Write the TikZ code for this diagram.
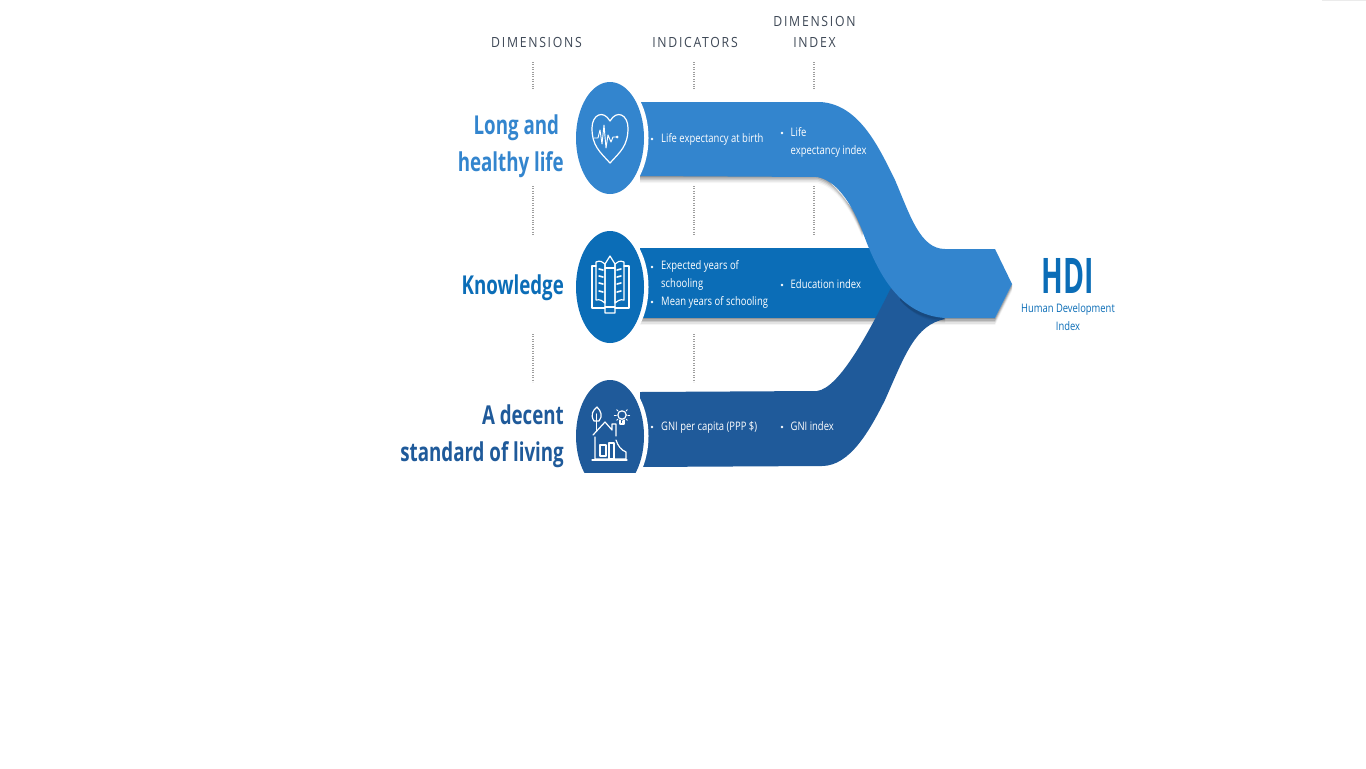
\documentclass[tikz,border=0pt]{standalone}
\usepackage{fontspec}
\setmainfont{Open Sans}
\newfontfamily\headfont[LetterSpace=14]{Open Sans}
\usetikzlibrary{shapes.geometric}
\definecolor{bandA}{HTML}{3385CE}
\definecolor{bandB}{HTML}{0B6DB7}
\definecolor{bandC}{HTML}{1F5A9A}
\definecolor{headgrey}{HTML}{3F4957}
\tikzset{
  x=0.75pt,y=-0.75pt,
  headtext/.style={font=\headfont\fontsize{10.5}{15.5}\selectfont,text=headgrey,align=center,inner sep=0pt,xscale=.875},
  dimtext/.style={font=\bfseries\fontsize{19.5}{27.6}\selectfont,align=right,anchor=east,inner sep=0pt,xscale=.72},
  bandtext/.style={font=\fontsize{8.8}{13.2}\selectfont,text=white,align=left,anchor=west,inner sep=0pt,xscale=.805},
  leader/.style={draw=black!38,line width=.8pt,densely dotted},
  icon/.style={draw=white,line width=.9pt,line join=round,line cap=round,fill=none},
  dot/.style={circle,fill=white,inner sep=0pt,minimum size=2.2pt},
  disc/.style={ellipse,inner sep=0pt,minimum width=51pt,minimum height=84pt},
}
\begin{document}
\begin{tikzpicture}
\useasboundingbox (0,0) rectangle (1366,768);
\fill[white] (0,0) rectangle (1366,768);
\fill[black!8] (1322,0) rectangle (1366,1.2);

% column headings
\node[headtext] (h1) at (536.5,42) {DIMENSIONS};
\node[headtext] (h2) at (695,42) {INDICATORS};
\node[headtext] (h3) at (814.5,32) {DIMENSION\\INDEX};

% dotted leaders
\foreach \n/\x/\a/\b in {a/533/62/90,b/694/62/90,c/814/62/90,d/533/186/235,e/694/186/235,f/814/186/235,g/533/334/382,h/694/334/382}{
  \coordinate (l\n1) at (\x,\a);
  \coordinate (l\n2) at (\x,\b);
  \draw[leader] (l\n1) -- (l\n2);
}

\begin{scope}
\clip (380,60) rectangle (1366,472);

% shadows
\foreach \d/\o in {1/.16,2.5/.13,4/.10,5.5/.07,7/.04}{
  \fill[black,opacity=\o] (640,176+\d) -- (817,176+\d) .. controls (835,180+\d) and (850,200+\d) .. (862,230+\d) -- (870,230) -- (820,170) -- (640,170) -- cycle;
  \fill[black,opacity=\o] (640,318) rectangle (880,318+\d);
  \fill[black,opacity=\o] (925,318) rectangle (995,318+\d);
  \fill[black,opacity=\o] (995,318+\d) -- (1012,284+\d) -- (1012,284) -- (995,318) -- cycle;
}

% bands
\path[fill=bandB] (640,248) -- (900,248) -- (900,318) -- (640,318) -- cycle;
\path[fill=bandC] (640,392) -- (817,391) .. controls (840,388) and (870,330) .. (895,280)
  -- (945,319) .. controls (915,325) and (905,355) .. (885,400)
  .. controls (870,430) and (850,466) .. (822,466) -- (640,467) -- cycle;
\foreach \d/\o in {1/.08,2.5/.06,4/.04}{
  \fill[black,opacity=\o] (900,300) .. controls (910,312) and (925,318+\d) .. (945,319+\d) -- (945,316) -- (900,290) -- cycle;
}
\path[fill=bandA] (640,102) -- (820,102) .. controls (860,104) and (880,150) .. (895,180)
  .. controls (910,215) and (920,249) .. (945,249) -- (995,249) -- (1012,284) -- (995,318) -- (945,318)
  .. controls (900,315) and (878,275) .. (862,230) .. controls (850,200) and (835,180) .. (817,177) -- (640,176) -- cycle;

% circles with white ring
\foreach \y/\c/\n in {138/bandA/c1,287/bandB/c2,436/bandC/c3}{
  \fill[white] (610,\y) ellipse [x radius=38.5,y radius=60];
  \node[disc,fill=\c] (\n) at (610,\y) {};
}
\end{scope}

% heart icon
\draw[icon] (610,163) .. controls (600,152) and (592,146) .. (592,128) .. controls (592,115) and (603,109) .. (610,121)
  .. controls (617,109) and (628,115) .. (628,128) .. controls (628,146) and (620,152) .. (610,163) -- cycle;
\draw[icon,line width=.7pt] (594,138) -- (598,138) -- (600,130) -- (602,144) -- (604,125) -- (606,148) -- (608,135) -- (611,142) -- (613,137) -- (617,137);
\fill[white] (617,137) circle (1.5);

% book icon
\draw[icon] (596,262) .. controls (600,260) and (603,262) .. (605,264) -- (605,303) .. controls (603,301) and (600,299) .. (596,300) -- cycle;
\draw[icon] (624,262) .. controls (620,260) and (617,262) .. (615,264) -- (615,303) .. controls (617,301) and (620,299) .. (624,300) -- cycle;
\draw[icon] (596,266) -- (592,266) -- (592,308) -- (605,308);
\draw[icon] (624,266) -- (629,266) -- (629,308) -- (615,308);
\draw[icon] (605,264) -- (610,256) -- (615,264) -- (615,313) -- (605,313) -- cycle;
\draw[icon] (605,268) -- (615,268);
\draw[icon] (605,307) -- (615,307);
\foreach \yy in {269,276,283,291}{
  \draw[icon,line width=1.2pt] (599,\yy) -- (603,\yy+1);
  \draw[icon,line width=1.2pt] (621,\yy) -- (617,\yy+1);
}

% house icon
\draw[icon] (593,435) -- (605,422) -- (612,430) -- (612,424) -- (616,424) -- (616,436);
\draw[icon] (595,437) -- (595,459) -- (626,459) -- (626,452) .. controls (621,450) and (618,446) .. (616,440);
\draw[icon] (592,460) -- (627,460);
\draw[icon] (600,445) rectangle (606,456);
\draw[icon] (609,443) rectangle (614,459);
\draw[icon] (594,421) .. controls (590,415) and (593,410) .. (597,407) .. controls (601,411) and (603,416) .. (599,421) -- cycle;
\draw[icon] (596.5,414) -- (596.5,431);
\draw[icon] (622,415) circle (4.2);
\draw[icon] (620,420) -- (620,424) -- (624,424) -- (624,420);
\foreach \aa in {0,45,...,315}{ \ifnum\aa=270\else\draw[icon,line width=.6pt] (622,415) ++(\aa:5.7) -- ++(\aa:2);\fi }

% dimension labels
\node[dimtext,text=bandA] (d1) at (564,146) {Long and\hspace*{5pt}\\healthy life};
\node[dimtext,text=bandB] (d2) at (564,288) {Knowledge};
\node[dimtext,text=bandC] (d3) at (564,436) {A decent\\standard of living};

% band texts
\foreach \p in {(652,139),(782,133),(652,267),(652,302),(782,285),(652,427),(782,427)}{\node[dot] at \p {};}
\node[bandtext] (t1) at (661,139) {Life expectancy at birth};
\node[bandtext] (t2) at (790.5,142.5) {Life\\expectancy index};
\node[bandtext] (t3) at (661,284.5) {Expected years of\\schooling\\Mean years of schooling};
\node[bandtext] (t4) at (790.5,284) {Education index};
\node[bandtext] (t5) at (661,427) {GNI per capita (PPP \$)};
\node[bandtext] (t6) at (790.5,426.5) {GNI index};

% HDI
\node[font=\bfseries\fontsize{36.8}{36.8}\selectfont,text=bandB,inner sep=0pt,xscale=.58] (hdi) at (1067.5,275.5) {HDI};
\node[font=\fontsize{8.8}{13}\selectfont,text=bandB,align=center,inner sep=0pt,xscale=.8] (hdisub) at (1068,317) {Human Development\\Index};
\end{tikzpicture}
\end{document}
